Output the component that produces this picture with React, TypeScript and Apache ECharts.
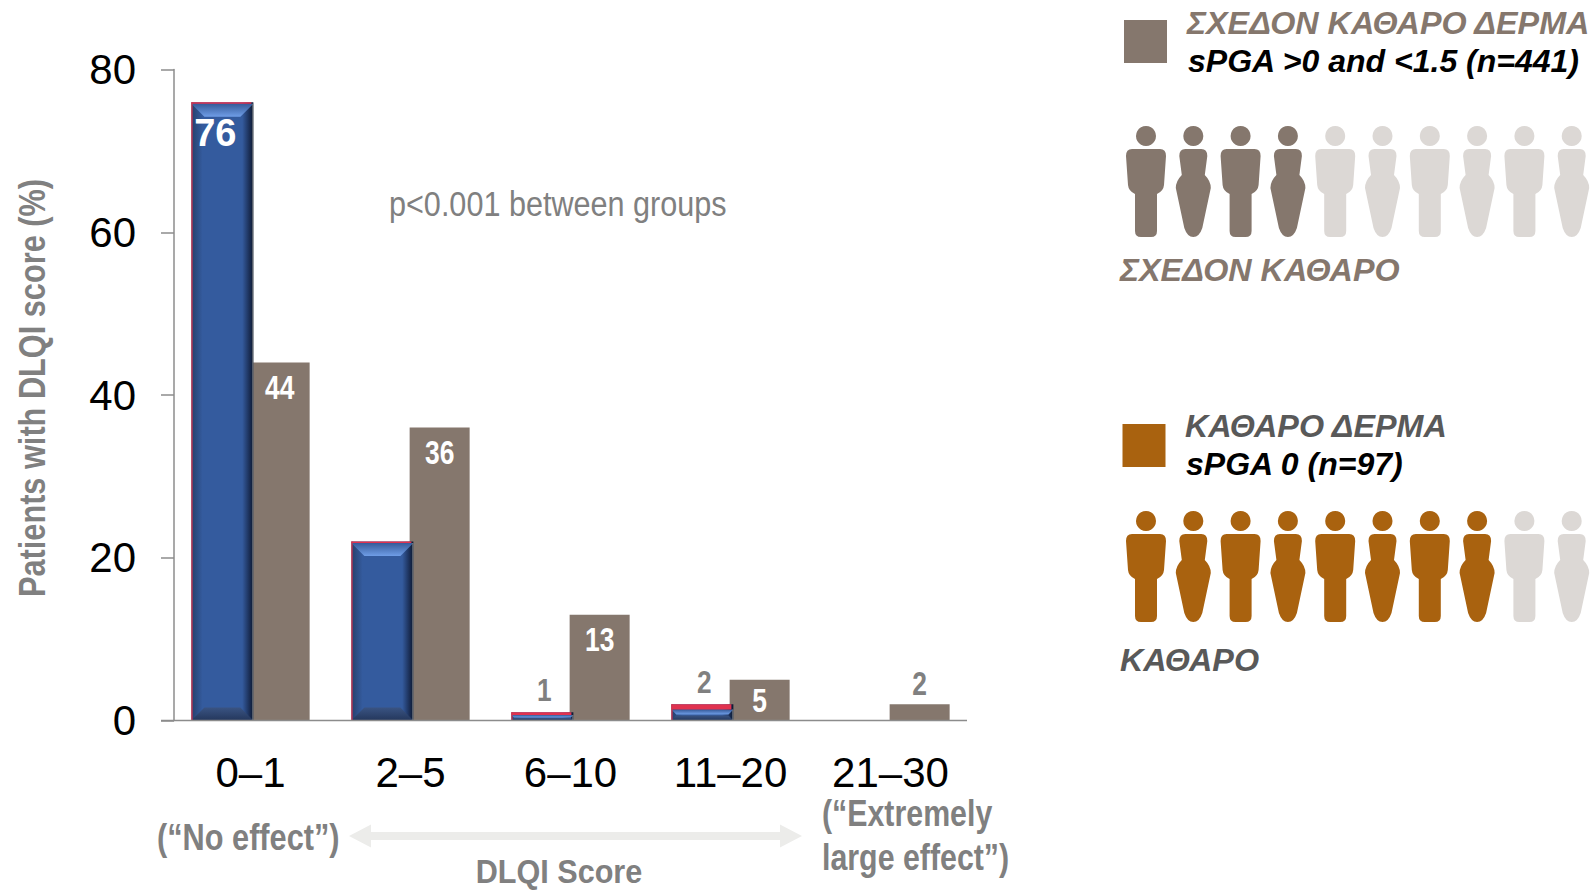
import React, { useEffect, useRef } from "react";
import * as echarts from "echarts";

// DLQI score distribution by skin clearance group
const categories = ["0–1", "2–5", "6–10", "11–20", "21–30"];
const clearSkin = [76, 22, 1, 2, null];
const almostClearSkin = [44, 36, 13, 5, 2];
const clearSkinLabels = ["76", "", "1", "2", ""];
const yTicks = { min: 0, max: 80, interval: 20 };

const legendTop = ["ΣΧΕΔΟΝ ΚΑΘΑΡΟ ΔΕΡΜΑ", "sPGA >0 and <1.5 (n=441)", "ΣΧΕΔΟΝ ΚΑΘΑΡΟ"];
const legendBottom = ["ΚΑΘΑΡΟ ΔΕΡΜΑ", "sPGA 0 (n=97)", "ΚΑΘΑΡΟ"];
const peopleTotal = 10;
const peopleFilledTop = 4;
const peopleFilledBottom = 8;

const BROWN = "#85776d";
const ORANGE = "#a9620f";
const LIGHT = "#dcd8d5";
const GREY = "#808080";
const SANS = "'Liberation Sans', Arial, sans-serif";
const NARROW_SCALE = 0.82;

const BAND_BLUE_LEFT = -59.14;
const BLUE_WIDTH = 62;
const BROWN_CENTER = 29.14;

echarts.graphic.registerShape(
  "personMan",
  echarts.graphic.extendPath(
    "M-14 13L14 13Q20 13 20 20L18 49Q17.5 55 11 58L11 95Q11 101 5 101L-5 101Q-11 101 -11 95L-11 58Q-17.5 55 -18 49L-20 20Q-20 13 -14 13Z",
    {}
  )
);
echarts.graphic.registerShape(
  "personWoman",
  echarts.graphic.extendPath(
    "M-8 13L8 13Q14 13 14 20L11.5 39Q17.5 45 17.5 52L9 92Q6 101 0 101Q-6 101 -9 92L-17.5 52Q-17.5 45 -11.5 39L-14 20Q-14 13 -8 13Z",
    {}
  )
);

function peopleRow(y: number, filled: number, color: string) {
  const out: any[] = [];
  for (let i = 0; i < peopleTotal; i++) {
    const x = 1146 + i * 47.3;
    const fill = i < filled ? color : LIGHT;
    out.push({ type: "circle", shape: { cx: x, cy: y, r: 10 }, style: { fill } });
    out.push({ type: i % 2 ? "personWoman" : "personMan", x, y, style: { fill } });
  }
  return out;
}

function text(x: number, y: number, t: string, font: string, fill: string, align = "left", scaleX = 1) {
  return {
    type: "text",
    x,
    y,
    scaleX,
    style: { text: t, font, fill, textAlign: align, textVerticalAlign: "bottom" },
  };
}

// Bevelled edges, red outline and value text of the clear-skin bars
function bevelOverlay(params: any, api: any) {
  const i = api.value(0);
  const v = api.value(1);
  const top = api.coord([i, v]);
  const base = api.coord([i, 0]);
  const l = top[0] + BAND_BLUE_LEFT;
  const r = l + BLUE_WIDTH;
  const t = top[1];
  const b = base[1];
  const h = b - t;
  const red = h < 30 ? h * 0.33 : 1.5;
  const ih = t + red;
  const bev = Math.min(13, (b - ih) * 0.45);
  const children: any[] = [
    {
      type: "polygon",
      shape: { points: [[l, ih], [r, ih], [r - bev, ih + bev], [l + bev, ih + bev]] },
      style: {
        fill: new echarts.graphic.LinearGradient(0, 0, 0, 1, [
          { offset: 0, color: "#355a99" },
          { offset: 1, color: "#6f9de6" },
        ]),
      },
    },
    {
      type: "polygon",
      shape: { points: [[l + bev, b - bev], [r - bev, b - bev], [r, b], [l, b]] },
      style: {
        fill: new echarts.graphic.LinearGradient(0, 0, 0, 1, [
          { offset: 0, color: "#3a5483" },
          { offset: 1, color: "#24375c" },
        ]),
      },
    },
    { type: "rect", shape: { x: l, y: t, width: r - l - 2, height: red }, style: { fill: "#e0324f" } },
    { type: "rect", shape: { x: l, y: t, width: 1.2, height: h }, style: { fill: "#d8344f" } },
    { type: "rect", shape: { x: r - 1, y: ih, width: 1, height: b - ih }, style: { fill: "#7f8489" } },
  ];
  const label = clearSkinLabels[i];
  if (label === "76") {
    children.push({
      type: "text",
      x: (l + r) / 2 - 7,
      y: t + 12,
      style: { text: label, font: `bold 38px ${SANS}`, fill: "#ffffff", textAlign: "center" },
    });
  } else if (label) {
    children.push({
      type: "text",
      x: (l + r) / 2 + 2,
      y: t - 6,
      scaleX: NARROW_SCALE,
      style: {
        text: label,
        font: `bold 32px ${SANS}`,
        fill: GREY,
        textAlign: "center",
        textVerticalAlign: "bottom",
      },
    });
  }
  return { type: "group", children };
}

// Value text of the almost-clear bars, condensed horizontally
function brownLabel(params: any, api: any) {
  const i = api.value(0);
  const v = api.value(1);
  const top = api.coord([i, v]);
  const above = v < 4;
  return {
    type: "text",
    x: top[0] + BROWN_CENTER,
    y: above ? top[1] - 21 : top[1] + (v < 8 ? 21 : 25),
    scaleX: 0.8,
    style: {
      text: String(v),
      font: `bold 33px ${SANS}`,
      fill: above ? GREY : "#ffffff",
      textAlign: "center",
      textVerticalAlign: "middle",
    },
  };
}

export default function App() {
  const ref = useRef<HTMLDivElement>(null);
  useEffect(() => {
    document.body.style.margin = "0";
    const chart = echarts.init(ref.current!, undefined, { renderer: "svg" });
    chart.setOption({
      animation: false,
      backgroundColor: "#ffffff",
      grid: { left: 170.5, top: 69.6, width: 800, height: 650.8 },
      xAxis: {
        type: "category",
        data: categories,
        axisLine: { show: false },
        axisTick: { show: false },
        axisLabel: { color: "#000000", fontFamily: SANS, fontSize: 42, margin: 31, interval: 0 },
      },
      yAxis: {
        type: "value",
        ...yTicks,
        offset: -3.5,
        splitLine: { show: false },
        axisLine: { show: true, lineStyle: { color: "#8c8c8c", width: 1.5 } },
        axisTick: { show: true, length: 13, lineStyle: { color: "#8c8c8c", width: 1.5 } },
        axisLabel: { color: "#000000", fontFamily: SANS, fontSize: 42, margin: 38 },
      },
      series: [
        {
          type: "bar",
          name: "sPGA 0",
          data: clearSkin,
          barWidth: BLUE_WIDTH,
          barGap: "-6%",
          z: 3,
          itemStyle: {
            color: new echarts.graphic.LinearGradient(0, 0, 1, 0, [
              { offset: 0, color: "#263f6b" },
              { offset: 0.18, color: "#345b9e" },
              { offset: 0.82, color: "#345b9e" },
              { offset: 0.94, color: "#1a2d54" },
              { offset: 1, color: "#0c1830" },
            ]),
          },
        },
        {
          type: "bar",
          name: "sPGA >0 and <1.5",
          data: almostClearSkin,
          barWidth: 60,
          z: 2,
          itemStyle: { color: BROWN },
        },
        {
          type: "custom",
          name: "bevel",
          data: clearSkin.map((v, i) => [i, v]).filter((d) => d[1] != null),
          encode: { x: 0, y: 1 },
          z: 4,
          clip: false,
          silent: true,
          renderItem: bevelOverlay,
        },
        {
          type: "custom",
          name: "values",
          data: almostClearSkin.map((v, i) => [i, v]),
          encode: { x: 0, y: 1 },
          z: 4,
          clip: false,
          silent: true,
          renderItem: brownLabel,
        },
      ],
      graphic: [
        { type: "line", z: 5, shape: { x1: 161, y1: 720.5, x2: 967, y2: 720.5 }, style: { stroke: "#8c8c8c", lineWidth: 1.5 } },
        {
          type: "text",
          x: 32,
          y: 388,
          rotation: Math.PI / 2,
          scaleX: 0.83,
          style: {
            text: "Patients with DLQI score (%)",
            font: `bold 37px ${SANS}`,
            fill: GREY,
            textAlign: "center",
            textVerticalAlign: "middle",
          },
        },
        text(389, 222, "p<0.001 between groups", `36px ${SANS}`, GREY, "left", 0.85),
        text(157, 855, "(“No effect”)", `bold 37px ${SANS}`, GREY, "left", 0.83),
        text(822, 831, "(“Extremely", `bold 37px ${SANS}`, GREY, "left", 0.82),
        text(822, 875, "large effect”)", `bold 37px ${SANS}`, GREY, "left", 0.82),
        text(559, 888.5, "DLQI Score", `bold 34px ${SANS}`, GREY, "center", 0.9),
        {
          type: "polygon",
          shape: {
            points: [
              [349, 836], [371, 824.5], [371, 832], [780, 832], [780, 824.5],
              [802, 836], [780, 847.5], [780, 840], [371, 840], [371, 847.5],
            ],
          },
          style: { fill: "#ececea" },
        },
        { type: "rect", shape: { x: 1124, y: 20, width: 43, height: 43 }, style: { fill: BROWN } },
        text(1187, 39, legendTop[0], `italic bold 32.3px ${SANS}`, BROWN),
        text(1188, 77, legendTop[1], `italic bold 32px ${SANS}`, "#000000"),
        ...peopleRow(136, peopleFilledTop, BROWN),
        text(1120, 286, legendTop[2], `italic bold 32.3px ${SANS}`, BROWN),
        { type: "rect", shape: { x: 1122.5, y: 424, width: 43, height: 43 }, style: { fill: ORANGE } },
        text(1185, 442, legendBottom[0], `italic bold 32.3px ${SANS}`, "#595959"),
        text(1186, 480, legendBottom[1], `italic bold 32px ${SANS}`, "#000000"),
        ...peopleRow(521, peopleFilledBottom, ORANGE),
        text(1120, 676, legendBottom[2], `italic bold 32.3px ${SANS}`, "#595959"),
      ],
    });
    return () => chart.dispose();
  }, []);
  return <div ref={ref} style={{ width: 1593, height: 890 }} />;
}
